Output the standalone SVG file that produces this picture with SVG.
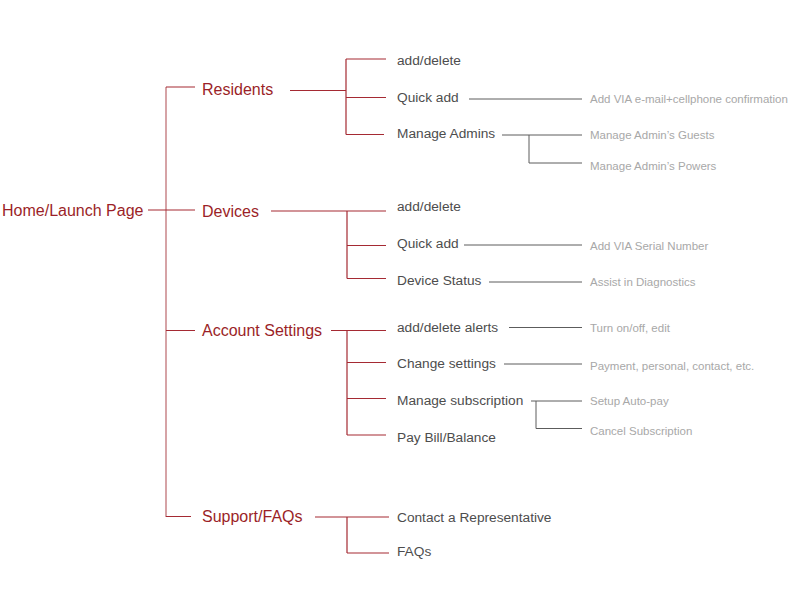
<svg xmlns="http://www.w3.org/2000/svg" width="792" height="612" viewBox="0 0 792 612">
<style>
.r{font-family:"Liberation Sans",Arial,sans-serif;font-size:16px;fill:#9b1f28}
.d{font-family:"Liberation Sans",Arial,sans-serif;font-size:13.7px;fill:#4d4d4d}
.g{font-family:"Liberation Sans",Arial,sans-serif;font-size:11.5px;fill:#a8a8a8}
.rl{stroke:#a52a33;stroke-width:1.2;fill:none}
.ml{stroke:#c98589;stroke-width:1.5;fill:none}
.gl{stroke:#5c5c5c;stroke-width:1;fill:none}
</style>
<rect width="792" height="612" fill="#fff"/>
<g id="connectors">
<path class="ml" d="M166 87V517"/>
<path class="rl" d="M148 210H195M166 87H195M166 330.5H195M166 516.5H191"/>
<path class="rl" d="M290 90.5H346M346 59V134.5M346 59H386M346 97.5H386M346 134.5H384"/>
<path class="rl" d="M271 211H386M347 211V278.5M347 245.5H386M347 278.5H386"/>
<path class="rl" d="M331 330.5H386M347 330.5V435M347 362.5H386M347 398.5H386M347 435H386"/>
<path class="rl" d="M315 517H389M347 517V553M347 553H389"/>
<path class="gl" d="M469 99H582M502 135H582M529 135V163H582"/>
<path class="gl" d="M464 245H582M489 282H582"/>
<path class="gl" d="M509 327.5H582M504 364H582M531 401H582M536 401V428.5H582"/>
</g>
<g id="home"><text class="r" x="2" y="216">Home/Launch Page</text></g>
<g id="residents"><text class="r" x="202" y="95">Residents</text></g>
<g id="devices"><text class="r" x="202" y="217">Devices</text></g>
<g id="account"><text class="r" x="202" y="336">Account Settings</text></g>
<g id="support"><text class="r" x="202" y="522">Support/FAQs</text></g>
<g id="res-add"><text class="d" x="397" y="65">add/delete</text></g>
<g id="res-quick"><text class="d" x="397" y="101.5">Quick add</text></g>
<g id="res-admins"><text class="d" x="397" y="138">Manage Admins</text></g>
<g id="res-quick-note"><text class="g" x="590" y="103">Add VIA e-mail+cellphone confirmation</text></g>
<g id="res-guests"><text class="g" x="590" y="139">Manage Admin’s Guests</text></g>
<g id="res-powers"><text class="g" x="590" y="170">Manage Admin’s Powers</text></g>
<g id="dev-add"><text class="d" x="397" y="211">add/delete</text></g>
<g id="dev-quick"><text class="d" x="397" y="248">Quick add</text></g>
<g id="dev-status"><text class="d" x="397" y="284.5">Device Status</text></g>
<g id="dev-serial"><text class="g" x="590" y="249.5">Add VIA Serial Number</text></g>
<g id="dev-diag"><text class="g" x="590" y="286">Assist in Diagnostics</text></g>
<g id="acc-alerts"><text class="d" x="397" y="331.5">add/delete alerts</text></g>
<g id="acc-change"><text class="d" x="397" y="368">Change settings</text></g>
<g id="acc-sub"><text class="d" x="397" y="404.5">Manage subscription</text></g>
<g id="acc-pay"><text class="d" x="397" y="441.5">Pay Bill/Balance</text></g>
<g id="acc-turn"><text class="g" x="590" y="332">Turn on/off, edit</text></g>
<g id="acc-payment"><text class="g" x="590" y="369.5">Payment, personal, contact, etc.</text></g>
<g id="acc-auto"><text class="g" x="590" y="405">Setup Auto-pay</text></g>
<g id="acc-cancel"><text class="g" x="590" y="435">Cancel Subscription</text></g>
<g id="sup-contact"><text class="d" x="397" y="522">Contact a Representative</text></g>
<g id="sup-faqs"><text class="d" x="397" y="556">FAQs</text></g>
</svg>
